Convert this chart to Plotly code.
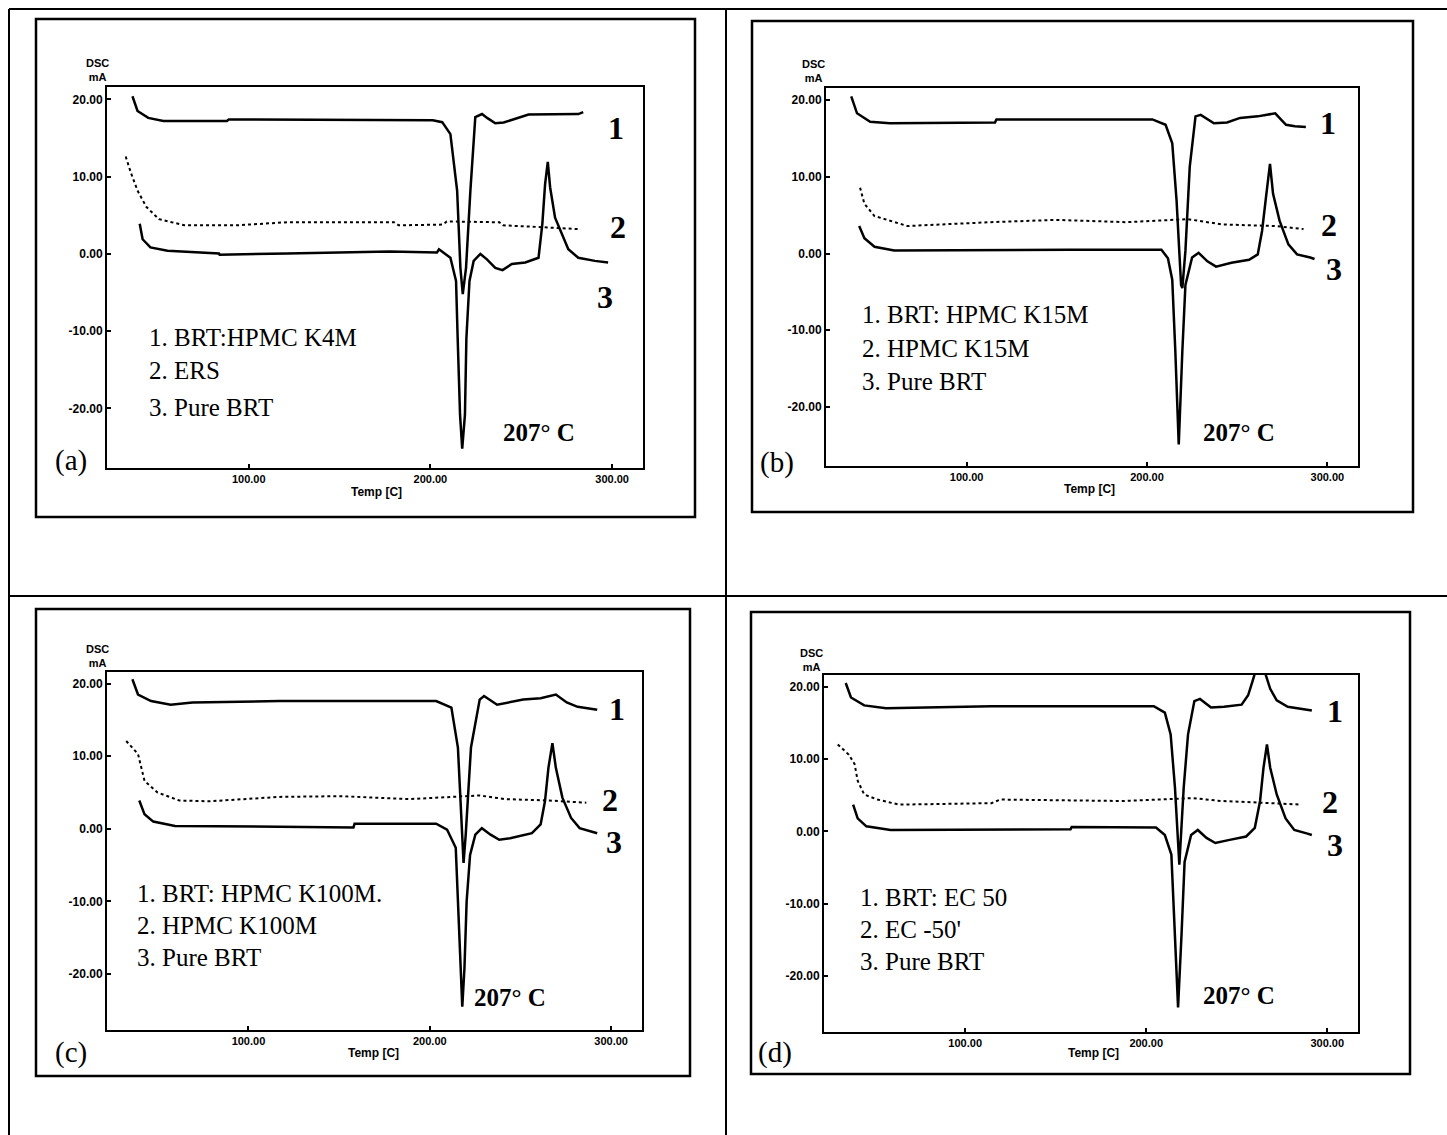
import plotly.graph_objects as go

W, H = 1447, 1135

# ---------------- shared axis data ----------------
T_RANGE = [22, 317]
V_RANGE = [-27.7, 21.6]
x_tick_vals = [100, 200, 300]
x_tick_text = ["100.00", "200.00", "300.00"]
y_tick_vals = [20, 10, 0, -10, -20]
y_tick_text = ["20.00", "10.00", "0.00", "-10.00", "-20.00"]

# ---------------- panel (a) ----------------
a1_T = [36, 38.8, 44.7, 53, 88, 89, 201.3, 206.5, 211, 214.7, 216.5, 217.8, 219.6, 222, 224.7, 228.4,
        231.2, 235.7, 240.3, 254, 281.4, 284.1]
a1_V = [20.4, 18.5, 17.6, 17.2, 17.2, 17.4, 17.3, 17.05, 15.5, 8.2, -1.8, -5.2, -1.8, 8.2, 17.7, 18.1,
        17.6, 16.9, 17.0, 18.05, 18.1, 18.35]
a2_T = [32.3, 35.3, 38.8, 43.6, 50.6, 64.7, 93, 121.2, 180, 182.5, 207, 209, 238, 240, 258, 272, 282.7]
a2_V = [12.6, 10.4, 8.2, 6.1, 4.5, 3.7, 3.7, 4.1, 4.1, 3.7, 3.8, 4.2, 4.1, 3.7, 3.5, 3.3, 3.2]
a3_T = [40, 41.6, 45.9, 55.3, 83.6, 84, 121.2, 177.7, 203.6, 204.7, 211, 214.1, 215, 216.3, 217.5, 219,
        219.8, 221.5, 223.8, 227.5, 231.1, 235.7, 239.7, 244.8, 252.2, 259.5, 261.6, 263.1, 264.6, 265.9,
        268.6, 272.2, 275.9, 281.4, 290.5, 297.8]
a3_V = [3.9, 1.9, 0.84, 0.4, 0.05, -0.1, 0.05, 0.3, 0.2, 0.6, -0.5, -3.5, -10.9, -20.8, -25.2, -20.8,
        -10.9, -3.5, -0.9, 0.0, -0.7, -1.8, -2.1, -1.3, -1.1, -0.5, 3.9, 9.0, 11.9, 8.6,
        4.7, 2.6, 0.6, -0.5, -0.9, -1.1]

# ---------------- panel (b) ----------------
b1_T = [36, 39.2, 46.5, 57.4, 115.7, 116.5, 203, 210.3, 214, 216.4, 218.9, 219.6, 221.3, 223.7, 226.9,
        229.8, 237.1, 244.4, 251.6, 261.4, 271.1, 277.1, 282, 288.1]
b1_V = [20.5, 18.3, 17.2, 17.0, 17.1, 17.5, 17.5, 16.8, 14.4, 6.9, -4.1, -4.5, 0.35, 11.3, 17.9,
        18.1, 17.0, 17.1, 17.7, 17.9, 18.3, 16.8, 16.6, 16.5]
b2_T = [40.9, 43.3, 48.9, 59.8, 67.1, 113.3, 149.6, 188.5, 222.5, 241.9, 271.1, 286.8]
b2_V = [8.6, 6.5, 4.9, 4.1, 3.6, 4.1, 4.4, 4.1, 4.5, 3.8, 3.6, 3.2]
b3_T = [40.4, 43.3, 48.9, 59.8, 156.9, 208, 211.6, 214, 215.7, 217.6, 219.6, 221.3, 225, 228.6, 233.5,
        238.3, 246.8, 256.6, 261.4, 263.8, 266.2, 268.2, 269.9, 273.5, 278.4, 283.2, 290.5, 292.9]
b3_V = [3.6, 2.0, 0.9, 0.4, 0.5, 0.5, -0.6, -3.4, -12.7, -24.9, -12.7, -4.1, -0.5, 0.1, -1.0,
        -1.7, -1.2, -0.8, -0.1, 2.95, 7.8, 11.7, 7.8, 4.3, 1.2, -0.1, -0.5, -0.7]

# ---------------- panel (c) ----------------
c1_T = [36, 39.1, 46.3, 57.1, 69.1, 117.1, 203.5, 211.9, 215.5, 217.9, 218.6, 219.8, 222.7, 227.5,
        229.9, 237.1, 244.3, 251.5, 261.1, 269.5, 275.5, 281.5, 292.3]
c1_V = [20.6, 18.5, 17.6, 17.1, 17.4, 17.6, 17.6, 16.7, 11.2, -0.8, -4.7, -0.8, 11.2, 17.8,
        18.3, 17.1, 17.4, 17.8, 18.0, 18.5, 17.4, 16.8, 16.4]
c2_T = [32.6, 39.1, 42.7, 49.9, 61.9, 78.7, 117.1, 150.7, 189.1, 227.5, 241.4, 265.9, 286.3]
c2_V = [12.1, 10.3, 6.6, 5.0, 3.9, 3.8, 4.4, 4.5, 4.1, 4.6, 4.1, 3.9, 3.6]
c3_T = [39.8, 42.7, 47.5, 59.5, 157.9, 158.5, 203.5, 209.5, 214.3, 215.5, 216.7, 217.9, 219.1, 220.3,
        222.2, 225.1, 228.7, 233.5, 238.3, 244.3, 256.3, 261.1, 263.5, 265.4, 267.6, 269.5, 273.1,
        277.9, 282.6, 289.8, 292.3]
c3_V = [3.9, 2.0, 1.0, 0.4, 0.2, 0.7, 0.7, -0.1, -2.6, -10.0, -19.2, -24.5, -19.2, -10.0,
        -3.6, -0.8, 0.1, -0.8, -1.5, -1.3, -0.6, 0.6, 3.8, 8.4, 11.8, 8.4, 4.3,
        1.5, 0.1, -0.4, -0.6]

# ---------------- panel (d) ----------------
d1_T = [34, 36.9, 44.2, 56.3, 114.5, 204.2, 210.3, 213.5, 215.9, 218.3, 220.7, 223.1, 226.6, 229.7,
        235.8, 243, 252.7, 256.3, 258.8, 260, 263, 265.8, 268.5, 272.1, 278.2, 284.2, 291.5]
d1_V = [20.5, 18.5, 17.4, 17.0, 17.3, 17.3, 16.4, 13.4, 6.0, -4.6, 6.0, 13.4, 18.0, 18.3,
        17.1, 17.2, 17.5, 18.8, 20.8, 21.8, 26.0, 21.8, 19.7, 18.1, 17.2, 17.0, 16.7]
d2_T = [29.6, 35.7, 38.9, 40.6, 44.2, 51.5, 63.6, 114.5, 119.4, 187.3, 226, 241.3, 269.7, 285.4]
d2_V = [12.0, 10.6, 9.3, 7.0, 5.1, 4.4, 3.7, 3.9, 4.4, 4.2, 4.6, 4.2, 3.9, 3.7]
d3_T = [38.1, 40.6, 45.4, 58.8, 158.2, 158.8, 205.4, 210.3, 213.9, 215.9, 217.6, 219.5, 221.2, 224.8,
        228.5, 233.3, 238.2, 245.4, 255.2, 260, 262.9, 264.8, 266.7, 268.5, 272.1, 277, 281.8,
        289.1, 291.5]
d3_V = [3.7, 1.8, 0.7, 0.2, 0.3, 0.6, 0.55, -0.5, -3.2, -14.3, -24.3, -14.3, -4.2, -0.5,
        0.2, -0.9, -1.6, -1.2, -0.7, 0.5, 4.2, 8.8, 12.0, 8.8, 5.1, 1.8, 0.2,
        -0.3, -0.5]

# ---------------- text data ----------------
panel_letters = ["(a)", "(b)", "(c)", "(d)"]
legend_lines = [
    ["1. BRT:HPMC K4M", "2. ERS", "3. Pure BRT"],
    ["1. BRT: HPMC K15M", "2. HPMC K15M", "3. Pure BRT"],
    ["1. BRT: HPMC K100M.", "2. HPMC K100M", "3. Pure BRT"],
    ["1. BRT: EC 50", "2. EC -50'", "3. Pure BRT"],
]
curve_numbers = ["1", "2", "3"]
peak_label = "207° C"
x_title = "Temp [C]"
y_title = "DSC<br>mA"

# ---------------- layout geometry (pixels) ----------------
def px(x):
    return x / W

def py(y):
    return 1 - y / H

panels = [
    dict(dom_x=(107, 643), dom_y=(87, 468), box=(36, 19, 695, 517),
         letter=(71, 460), leg_x=147, leg_y=(337, 371, 407), nums=[(616, 128), (618, 227), (605, 297)],
         peak=(539, 432), xt=(376, 492), yt=(97, 70),
         data=[(a1_T, a1_V), (a2_T, a2_V), (a3_T, a3_V)]),
    dict(dom_x=(826, 1358), dom_y=(88, 466), box=(752, 21, 1413, 512),
         letter=(777, 462), leg_x=860, leg_y=(315, 348, 381), nums=[(1328, 123), (1329, 225), (1334, 269)],
         peak=(1239, 432), xt=(1089, 489), yt=(813, 71),
         data=[(b1_T, b1_V), (b2_T, b2_V), (b3_T, b3_V)]),
    dict(dom_x=(107, 642), dom_y=(672, 1030), box=(36, 609, 690, 1076),
         letter=(71, 1052), leg_x=135, leg_y=(893, 925, 957), nums=[(617, 709), (610, 800), (614, 842)],
         peak=(510, 997), xt=(373, 1053), yt=(97, 656),
         data=[(c1_T, c1_V), (c2_T, c2_V), (c3_T, c3_V)]),
    dict(dom_x=(824, 1358), dom_y=(675, 1032), box=(751, 612, 1410, 1074),
         letter=(775, 1052), leg_x=858, leg_y=(897, 929, 961), nums=[(1335, 711), (1330, 802), (1335, 845)],
         peak=(1239, 995), xt=(1093, 1053), yt=(811, 660),
         data=[(d1_T, d1_V), (d2_T, d2_V), (d3_T, d3_V)]),
]

fig = go.Figure()
layout = dict(width=W, height=H, margin=dict(l=0, r=0, t=0, b=0), autosize=False,
              paper_bgcolor="white", plot_bgcolor="white", showlegend=False)

shapes = []
annotations = []

# outer frame and dividers
for x0, y0, x1, y1 in [(9, 9, W, 9), (9, 9, 9, H), (726, 9, 726, H), (9, 596, W, 596)]:
    shapes.append(dict(type="line", xref="paper", yref="paper", x0=px(x0), y0=py(y0), x1=px(x1), y1=py(y1),
                       line=dict(color="black", width=2)))

sans = "Liberation Sans"
serif = "Liberation Serif"

for i, p in enumerate(panels):
    n = "" if i == 0 else str(i + 1)
    xa, ya = "xaxis" + n, "yaxis" + n
    layout[xa] = dict(domain=[px(p["dom_x"][0]), px(p["dom_x"][1])], range=T_RANGE, anchor="y" + n,
                      showline=True, linecolor="black", linewidth=2, mirror=True, showgrid=False,
                      zeroline=False, ticks="inside", ticklen=4, tickwidth=1.5, tickcolor="black",
                      tickvals=x_tick_vals, ticktext=x_tick_text,
                      tickfont=dict(family=sans, size=11, color="black", weight="bold"))
    layout[ya] = dict(domain=[py(p["dom_y"][1]), py(p["dom_y"][0])], range=V_RANGE, anchor="x" + n,
                      showline=True, linecolor="black", linewidth=2, mirror=True, showgrid=False,
                      zeroline=False, ticks="inside", ticklen=4, tickwidth=1.5, tickcolor="black",
                      tickvals=y_tick_vals, ticktext=y_tick_text,
                      tickfont=dict(family=sans, size=12, color="black", weight="bold"))
    for k, (T, V) in enumerate(p["data"]):
        dash = "dot" if k == 1 else "solid"
        width = 2 if k == 1 else 2.5
        fig.add_trace(go.Scatter(x=T, y=V, mode="lines", xaxis="x" + n, yaxis="y" + n,
                                 line=dict(color="black", width=width, dash=dash), hoverinfo="skip"))
    bx0, by0, bx1, by1 = p["box"]
    shapes.append(dict(type="rect", xref="paper", yref="paper", x0=px(bx0), y0=py(by1), x1=px(bx1), y1=py(by0),
                       line=dict(color="black", width=2.5)))
    annotations.append(dict(text=panel_letters[i], x=px(p["letter"][0]), y=py(p["letter"][1]),
                            xref="paper", yref="paper", showarrow=False, xanchor="center", yanchor="middle",
                            font=dict(family=serif, size=29, color="black")))
    for j, t in enumerate(legend_lines[i]):
        annotations.append(dict(text=t, x=px(p["leg_x"]), y=py(p["leg_y"][j]), xref="paper", yref="paper",
                                showarrow=False, xanchor="left", yanchor="middle",
                                font=dict(family=serif, size=25, color="black")))
    for j, (nx, ny) in enumerate(p["nums"]):
        annotations.append(dict(text="<b>" + curve_numbers[j] + "</b>", x=px(nx), y=py(ny), xref="paper", yref="paper",
                                showarrow=False, xanchor="center", yanchor="middle",
                                font=dict(family=serif, size=32, color="black")))
    annotations.append(dict(text="<b>" + peak_label + "</b>", x=px(p["peak"][0]), y=py(p["peak"][1]),
                            xref="paper", yref="paper", showarrow=False, xanchor="center", yanchor="middle",
                            font=dict(family=serif, size=25, color="black")))
    annotations.append(dict(text="<b>" + x_title + "</b>", x=px(p["xt"][0]), y=py(p["xt"][1]), xref="paper", yref="paper",
                            showarrow=False, xanchor="center", yanchor="middle",
                            font=dict(family=sans, size=12, color="black")))
    annotations.append(dict(text="<b>" + y_title + "</b>", x=px(p["yt"][0]), y=py(p["yt"][1]), xref="paper", yref="paper",
                            showarrow=False, xanchor="center", yanchor="middle",
                            font=dict(family=sans, size=11, color="black")))

layout["shapes"] = shapes
layout["annotations"] = annotations
fig.update_layout(**layout)
fig.write_html("out.html")
